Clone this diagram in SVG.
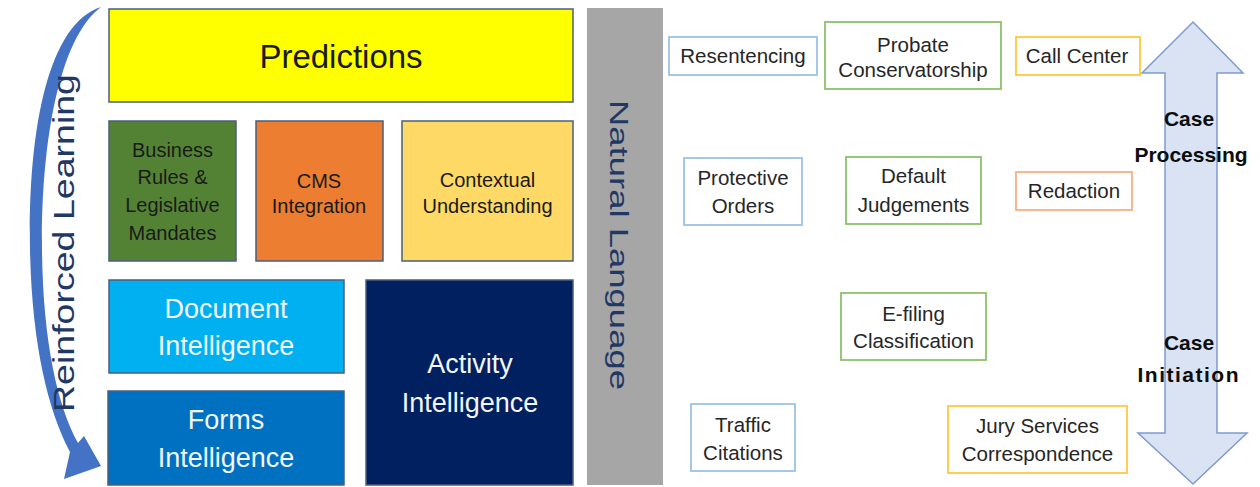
<svg xmlns="http://www.w3.org/2000/svg" width="1260" height="487" viewBox="0 0 1260 487">
<style>
  .blk { stroke: #4a5f7e; stroke-width: 1.5; }
  .t { font-family: "Liberation Sans", Arial, sans-serif; text-anchor: middle; }
  .dk { fill: #1a1a1a; font-size: 20px; }
  .wh { fill: #f4f6fa; font-size: 27px; }
  .ob { fill: #ffffff; stroke-width: 1.8; }
  .bl { stroke: #9dc3e6; }
  .gr { stroke: #8cc26a; }
  .ye { stroke: #ffc93c; }
  .or { stroke: #f4b183; }
  .rt { fill: #262626; font-size: 20.5px; }
  .bd { fill: #0d0d0d; font-size: 21px; font-weight: bold; }
</style>
<rect width="1260" height="487" fill="#ffffff"/>

<g id="reinforced-learning">
  <path d="M101,7 C45,25 28,140 30,250 C32,345 48,410 70,452 L64,479 L101,466 L84,436 L78,443 C57,405 43,340 42,250 C41,150 57,40 101,7 Z" fill="#4472c4"/>
  <text class="t" transform="translate(74,243) rotate(-90)" font-size="29" fill="#1f3864" textLength="338" lengthAdjust="spacingAndGlyphs">Reinforced Learning</text>
</g>

<g id="predictions">
  <rect class="blk" x="109" y="9" width="464" height="93" fill="#ffff00"/>
  <text class="t" x="341" y="68" font-size="33" fill="#1a1a1a">Predictions</text>
</g>

<g id="business-rules">
  <rect class="blk" x="109" y="121" width="127" height="140" fill="#548235"/>
  <text class="t dk" x="172.5" y="157">Business</text>
  <text class="t dk" x="172.5" y="184">Rules &amp;</text>
  <text class="t dk" x="172.5" y="212">Legislative</text>
  <text class="t dk" x="172.5" y="240">Mandates</text>
</g>

<g id="cms-integration">
  <rect class="blk" x="256" y="121" width="127" height="140" fill="#ed7d31"/>
  <text class="t dk" x="319" y="188">CMS</text>
  <text class="t dk" x="319" y="213">Integration</text>
</g>

<g id="contextual-understanding">
  <rect class="blk" x="402" y="121" width="171" height="140" fill="#ffd966"/>
  <text class="t dk" x="487.5" y="187">Contextual</text>
  <text class="t dk" x="487.5" y="213">Understanding</text>
</g>

<g id="document-intelligence">
  <rect class="blk" x="109" y="280" width="235" height="93" fill="#00b0f0"/>
  <text class="t wh" x="226" y="318">Document</text>
  <text class="t wh" x="226" y="355">Intelligence</text>
</g>

<g id="forms-intelligence">
  <rect class="blk" x="108" y="391" width="236" height="94" fill="#0070c0"/>
  <text class="t wh" x="226" y="429">Forms</text>
  <text class="t wh" x="226" y="467">Intelligence</text>
</g>

<g id="activity-intelligence">
  <rect class="blk" x="366" y="280" width="207" height="205" fill="#002060"/>
  <text class="t wh" x="470" y="373">Activity</text>
  <text class="t wh" x="470" y="412">Intelligence</text>
</g>

<g id="natural-language">
  <rect x="587" y="8" width="76" height="477" fill="#a6a6a6"/>
  <text class="t" transform="translate(610,245) rotate(90)" font-size="26" fill="#1f3864" textLength="290" lengthAdjust="spacingAndGlyphs">Natural Language</text>
</g>

<g id="case-arrow">
  <path d="M1193,22 L1243,73 L1217,73 L1217,433 L1247,433 L1193,484 L1138,433 L1165,433 L1165,73 L1142,73 Z" fill="#dae3f3" stroke="#7f9ccb" stroke-width="1.5"/>
  <text class="t bd" x="1189" y="126">Case</text>
  <text class="t bd" x="1191" y="162">Processing</text>
  <text class="t bd" x="1189" y="350">Case</text>
  <text class="t bd" x="1188" y="382" textLength="101">Initiation</text>
</g>

<g id="resentencing">
  <rect class="ob bl" x="669" y="37" width="148" height="38"/>
  <text class="t rt" x="743" y="63">Resentencing</text>
</g>
<g id="probate">
  <rect class="ob gr" x="825" y="22" width="176" height="67"/>
  <text class="t rt" x="913" y="52">Probate</text>
  <text class="t rt" x="913" y="77">Conservatorship</text>
</g>
<g id="call-center">
  <rect class="ob ye" x="1016" y="37" width="124" height="38"/>
  <text class="t rt" x="1077" y="63">Call Center</text>
</g>
<g id="protective-orders">
  <rect class="ob bl" x="684" y="158" width="118" height="67"/>
  <text class="t rt" x="743" y="185">Protective</text>
  <text class="t rt" x="743" y="213">Orders</text>
</g>
<g id="default-judgements">
  <rect class="ob gr" x="846" y="157" width="135" height="67"/>
  <text class="t rt" x="913.5" y="183">Default</text>
  <text class="t rt" x="913.5" y="212">Judgements</text>
</g>
<g id="redaction">
  <rect class="ob or" x="1016" y="172" width="116" height="38"/>
  <text class="t rt" x="1074" y="198">Redaction</text>
</g>
<g id="e-filing">
  <rect class="ob gr" x="841" y="293" width="145" height="67"/>
  <text class="t rt" x="913.5" y="321">E-filing</text>
  <text class="t rt" x="913.5" y="348">Classification</text>
</g>
<g id="traffic-citations">
  <rect class="ob bl" x="691" y="404" width="104" height="67"/>
  <text class="t rt" x="743" y="432">Traffic</text>
  <text class="t rt" x="743" y="460">Citations</text>
</g>
<g id="jury-services">
  <rect class="ob ye" x="948" y="406" width="179" height="67"/>
  <text class="t rt" x="1037.5" y="433">Jury Services</text>
  <text class="t rt" x="1037.5" y="461">Correspondence</text>
</g>

<g id="connectors"></g>
</svg>
